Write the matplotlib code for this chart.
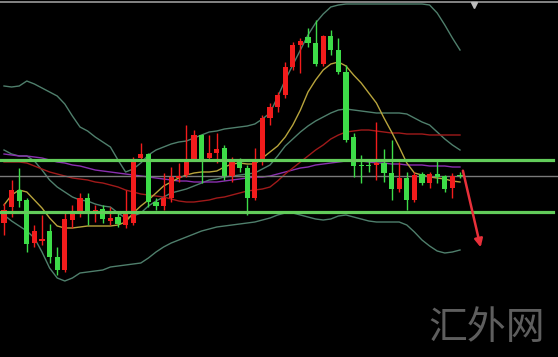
import matplotlib
matplotlib.use("Agg")
import matplotlib.pyplot as plt
import numpy as np

# ---- data (price axis drawn top-down: smaller value = higher on chart) ----
opens  = [223,207,190,200,243,241,231,257,270,220,211,198,214,209,221,217,225,223,158,154,
          202,206,198,178,175,159,135,158,153,148,176,162,168,198,162,118,107,95,67,45,
          37,43,64,36,50,72,137,165,165,165,163,173,189,178,200,174,183,174,176,188,175]
closes = [210,190,201,244,231,239,257,270,219,214,198,214,210,219,218,224,214,161,154,202,
          206,198,177,176,161,135,159,153,149,176,162,168,198,162,118,107,95,67,45,41,
          43,64,36,50,72,140,166,166,166,163,173,189,178,200,175,183,174,177,189,176,176]
highs  = [203,180,168,198,225,215,224,247,213,205,193,193,205,205,207,213,190,157,143,153,
          198,173,167,163,125,130,134,135,133,145,157,158,165,148,115,103,92,62,42,38,
          28,20,35,30,38,65,133,155,160,122,149,140,162,172,172,172,172,160,175,173,172]
lows   = [235,217,207,252,247,245,263,275,272,228,217,225,222,223,225,227,228,225,160,207,
          210,210,202,182,177,160,183,160,163,180,182,172,215,200,165,125,112,98,70,73,
          47,66,66,55,74,142,177,183,172,180,182,200,192,210,202,185,188,183,192,198,178]

boll_upper = [86,87,86,81,84,88,92,96,104,116,127,131,137,142,147,160,172,169,163,155,
              150,147,144,142,141,138,135,132,131,129,128,127,126,124,119,113,97,80,65,50,
              35,23,14,7,5,4,4,4,4,4,4,4,4,4,4,4,5,13,25,38,50]
boll_lower = [215,221,226,231,238,252,268,278,281,278,273,272,271,270,267,266,265,264,263,258,
              252,247,243,240,237,234,231,229,227,226,225,224,223,222,220,218,215,213,213,215,
              217,219,220,219,216,215,217,219,221,222,222,222,222,225,232,240,246,251,253,252,250]
boll_mid   = [150,154,156,156,161,170,180,187,192,197,200,201,204,206,207,213,218,216,213,206,
              201,197,193,191,189,186,183,180,179,177,176,175,174,173,169,165,156,146,139,132,
              126,121,117,113,110,109,110,111,112,113,113,113,113,114,118,122,125,132,139,145,150]
ma_fast    = [205,195,190,192,200,208,218,226,228,228,227,226,226,226,226,225,222,213,206,200,
              193,186,182,178,175,173,172,172,171,167,164,163,164,164,158,152,146,137,125,110,
              92,80,70,64,62,66,75,83,93,103,118,132,147,163,173,175,177,178,179,181,182]
ma_mid     = [162,162,162,163,166,169,172,174,176,178,179,180,182,183,185,187,190,192,194,195,
              196,197,199,201,202,202,201,200,198,197,195,193,191,190,189,187,181,174,168,162,
              156,150,145,139,135,132,131,130,130,131,132,133,133,134,134,134,135,135,135,135,135]
ma_slow    = [154,155,156,156,157,158,160,162,163,165,166,168,170,171,172,173,174,175,176,177,
              178,179,180,181,181,182,182,182,182,181,180,179,178,177,177,176,174,172,170,168,
              167,165,164,163,162,161,160,161,162,163,163,164,164,165,165,165,166,166,166,167,167]

support_levels = [160, 212]
last_price_line = 176
arrow_from = (60.3, 168)
arrow_to = (62.8, 250)
watermark = "汇外网"

# ---- drawing ----
W, H = 558, 357
fig = plt.figure(figsize=(W / 100, H / 100), dpi=100, facecolor="black")
ax = fig.add_axes([0, 0, 1, 1])
ax.set_facecolor("black")
ax.set_xlim(-4 / 7.6, (W - 4) / 7.6)
ax.set_ylim(H, 0)
ax.axis("off")

x = np.arange(len(opens))
o = np.array(opens, float); c = np.array(closes, float)
h = np.array(highs, float); l = np.array(lows, float)
up = c <= o  # higher price (smaller value) -> red
RED, GREEN = "#f21c1c", "#3ddc48"
colors = np.where(up, RED, GREEN)

# indicator lines
ax.plot(x, boll_upper, color="#4f7f6c", lw=1.0, zorder=2)
ax.plot(x, boll_lower, color="#4f7f6c", lw=1.0, zorder=2)
ax.plot(x, boll_mid, color="#4f7f6c", lw=1.0, zorder=2)
ax.plot(x, ma_slow, color="#8a2fb0", lw=1.0, zorder=2)
ax.plot(x, ma_mid, color="#a01a1a", lw=1.0, zorder=2)
ax.plot(x, ma_fast, color="#b8a43c", lw=1.0, zorder=2)

# horizontal lines
ax.axhline(last_price_line, color="#7a7a7a", lw=1.0, zorder=3)
for lv in support_levels:
    ax.axhline(lv, xmin=0, xmax=553 / W, color="#62cc5a", lw=2.3, zorder=5)

# candles
ax.vlines(x, h, l, colors=colors, lw=1.0, zorder=4)
bottoms = np.minimum(o, c)
heights = np.maximum(np.abs(o - c), 1.2)
ax.bar(x, heights, bottom=bottoms, width=0.66, color=colors, edgecolor="none", zorder=4)

# arrow
ax.annotate("", xy=arrow_to, xytext=arrow_from,
            arrowprops=dict(arrowstyle="-|>", color="#e8303a", lw=1.8,
                            mutation_scale=12), zorder=6)

# frame & marker
ax.axhline(2, color="#9a9a9a", lw=1.2, zorder=6)
ax.plot([(474 - 4) / 7.6], [5], marker="v", color="#bdbdbd", markersize=5, zorder=7)

# watermark
fig.text(487 / W, 1 - 328 / H, watermark, ha="center", va="center",
         fontsize=28, color="#5e5e5e", family=["Noto Sans CJK SC", "DejaVu Sans"])

fig.savefig("out.png", dpi=100, facecolor="black")
